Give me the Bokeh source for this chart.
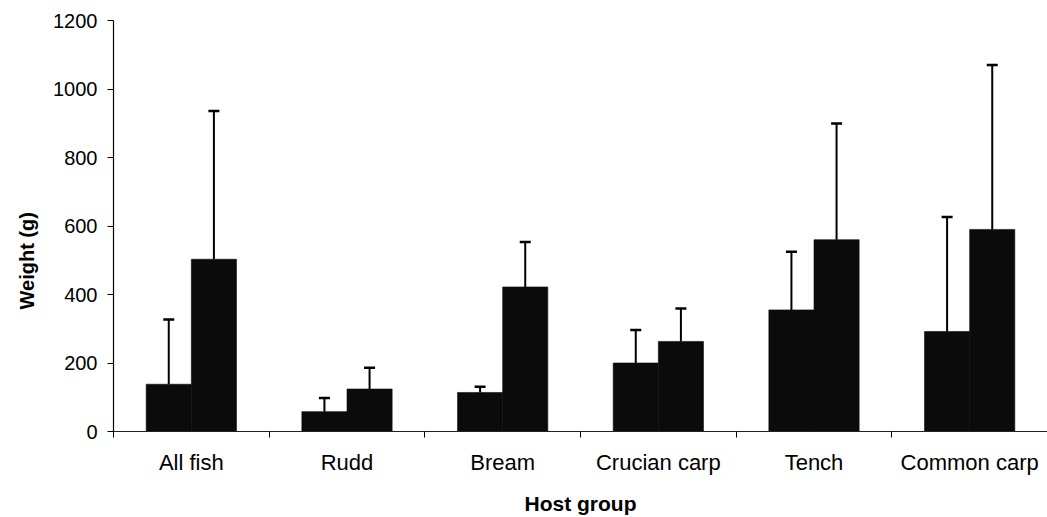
from bokeh.embed import file_html
from bokeh.models import (ColumnDataSource, FixedTicker, Range1d, TeeHead,
                          Title, Whisker)
from bokeh.plotting import figure
from bokeh.resources import INLINE

# Mean weight (g) of the two groups of fish within each host group, with SD
categories = ["All fish", "Rudd", "Bream", "Crucian carp", "Tench", "Common carp"]
mean_a = [138, 58, 114, 200, 355, 292]
sd_a = [189, 40, 17, 96, 170, 334]
mean_b = [503, 124, 422, 263, 560, 590]
sd_b = [433, 62, 131, 96, 339, 480]
y_ticks = [0, 200, 400, 600, 800, 1000, 1200]

FONT = "Liberation Sans"
BAR_W = 0.29
BAR_COLOR = "#0b0b0b"

n = len(categories)
centers = [i + 0.5 for i in range(n)]

src_a = ColumnDataSource(dict(
    x=[c - BAR_W / 2 for c in centers],
    top=mean_a,
    upper=[m + s for m, s in zip(mean_a, sd_a)],
))
src_b = ColumnDataSource(dict(
    x=[c + BAR_W / 2 for c in centers],
    top=mean_b,
    upper=[m + s for m, s in zip(mean_b, sd_b)],
))

p = figure(width=1047, height=517, output_backend="svg", toolbar_location=None,
           x_range=Range1d(0, n), y_range=Range1d(0, 1200))
p.min_border_left = 112
p.min_border_right = 0
p.min_border_top = 20
p.min_border_bottom = 85
p.outline_line_color = None
p.grid.visible = False
p.background_fill_color = "white"
p.border_fill_color = "white"

for src in (src_a, src_b):
    p.vbar(x="x", top="top", bottom=0, width=BAR_W, source=src,
           fill_color=BAR_COLOR, line_color=BAR_COLOR, line_width=0.6)
    p.add_layout(Whisker(source=src, base="x", lower="top", upper="upper",
                         line_color="black", line_width=2,
                         lower_head=None,
                         upper_head=TeeHead(size=11, line_color="black",
                                            line_width=2.5)))

# x axis: ticks at group boundaries, labels at group centres
xa = p.xaxis[0]
xa.ticker = FixedTicker(ticks=centers, minor_ticks=list(range(n + 1)))
xa.major_label_overrides = {c: name for c, name in zip(centers, categories)}
xa.major_tick_out = 0
xa.major_tick_in = 0
xa.minor_tick_out = 6
xa.minor_tick_in = 0
xa.minor_tick_line_color = "black"
xa.axis_line_color = "#222222"
xa.axis_line_width = 1.2
xa.major_label_text_font = FONT
xa.major_label_text_font_size = "22px"
xa.major_label_text_color = "black"
xa.major_label_standoff = 12
xa.axis_label = "Host group"
xa.axis_label_text_font = FONT
xa.axis_label_text_font_size = "21px"
xa.axis_label_text_font_style = "bold"
xa.axis_label_text_color = "black"
xa.axis_label_standoff = 14

ya = p.yaxis[0]
ya.ticker = FixedTicker(ticks=y_ticks, minor_ticks=[])
ya.major_tick_out = 6
ya.major_tick_in = 0
ya.major_tick_line_color = "black"
ya.axis_line_color = "black"
ya.axis_line_width = 1.2
ya.major_label_text_font = FONT
ya.major_label_text_font_size = "20px"
ya.major_label_text_color = "black"
ya.major_label_standoff = 10

# y-axis title, starting a little above the bottom of the frame
p.add_layout(Title(text="Weight (g)", align="left", offset=122,
                   text_font=FONT, text_font_size="20px",
                   text_font_style="bold", text_color="black",
                   standoff=26), "left")

open("out.html", "w").write(file_html(p, INLINE))
